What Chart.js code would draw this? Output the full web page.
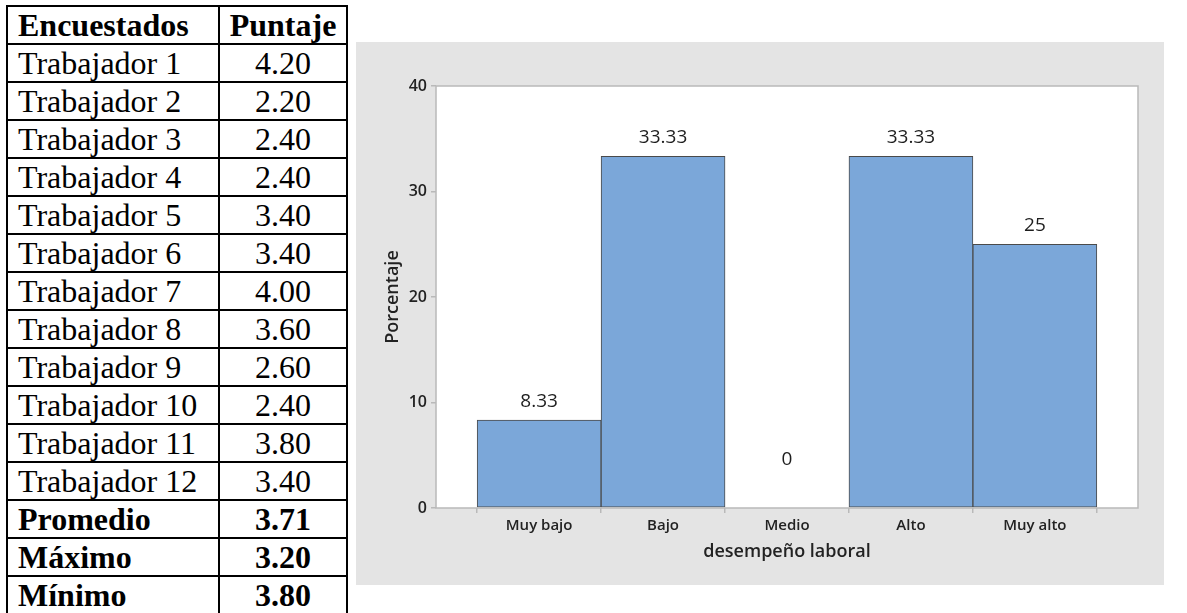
<!DOCTYPE html>
<html lang="es">
<head>
<meta charset="utf-8">
<title>Desempeño laboral</title>
<script src="https://cdn.jsdelivr.net/npm/chart.js@4.4.1/dist/chart.umd.min.js"></script>
<style>
  html, body { margin: 0; padding: 0; background: #fff; overflow: hidden; }
  body { width: 1187px; height: 613px; position: relative; }

  #tabla {
    position: absolute; left: 6px; top: 5px;
    border-collapse: collapse;
    font-family: "Liberation Serif", "Times New Roman", serif;
    font-size: 32px; color: #000;
  }
  #tabla td {
    border: 2px solid #000;
    height: 36px; padding: 0 8px 0 10px; line-height: 36px;
    white-space: nowrap;
  }
  #tabla td:first-child { width: 192px; }
  #tabla td:last-child { width: 114px; text-align: center; padding: 0 6px; }
  #tabla tr.negrita td { font-weight: bold; }

  #panel {
    position: absolute; left: 356px; top: 42px;
    width: 808px; height: 543px;
    background: #e4e4e4;
  }
</style>
</head>
<body>
<table id="tabla"></table>
<div id="panel"><canvas id="grafico"></canvas></div>

<script>
// Tabla de puntajes
const encabezados = ['Encuestados', 'Puntaje'];
const trabajadores = ['Trabajador 1', 'Trabajador 2', 'Trabajador 3', 'Trabajador 4',
  'Trabajador 5', 'Trabajador 6', 'Trabajador 7', 'Trabajador 8', 'Trabajador 9',
  'Trabajador 10', 'Trabajador 11', 'Trabajador 12'];
const puntajes = ['4.20', '2.20', '2.40', '2.40', '3.40', '3.40', '4.00', '3.60',
  '2.60', '2.40', '3.80', '3.40'];
const resumenEtiquetas = ['Promedio', 'Máximo', 'Mínimo'];
const resumenValores = ['3.71', '3.20', '3.80'];

// Histograma de niveles
const categorias = ['Muy bajo', 'Bajo', 'Medio', 'Alto', 'Muy alto'];
const porcentajes = [8.33, 33.33, 0, 33.33, 25];
const ticksY = [0, 10, 20, 30, 40];

function fila(a, b, negrita) {
  const tr = document.createElement('tr');
  if (negrita) tr.className = 'negrita';
  [a, b].forEach(t => {
    const td = document.createElement('td');
    td.textContent = t;
    tr.appendChild(td);
  });
  return tr;
}

const tabla = document.getElementById('tabla');
tabla.appendChild(fila(encabezados[0], encabezados[1], true));
trabajadores.forEach((t, i) => tabla.appendChild(fila(t, puntajes[i], false)));
resumenEtiquetas.forEach((t, i) => tabla.appendChild(fila(t, resumenValores[i], true)));

const GRIS_EJE = '#b9b9b9';
const FUENTE = '"Open Sans", "Noto Sans", sans-serif';

// fondo blanco y marco del area de trazado
const marcoArea = {
  id: 'marcoArea',
  beforeDraw(chart) {
    const { ctx, chartArea: a } = chart;
    ctx.save();
    ctx.fillStyle = '#fff';
    ctx.fillRect(a.left, a.top, a.right - a.left, a.bottom - a.top);
    ctx.restore();
  },
  afterDraw(chart) {
    const { ctx, chartArea: a } = chart;
    ctx.save();
    ctx.strokeStyle = GRIS_EJE;
    ctx.lineWidth = 1.5;
    ctx.strokeRect(a.left, a.top, a.right - a.left, a.bottom - a.top);
    ctx.restore();
  }
};

// etiquetas de valor sobre cada barra
const etiquetasValor = {
  id: 'etiquetasValor',
  afterDatasetsDraw(chart) {
    const { ctx } = chart;
    const meta = chart.getDatasetMeta(0);
    ctx.save();
    ctx.font = '19px ' + FUENTE;
    ctx.fillStyle = '#1e1e1e';
    ctx.textAlign = 'center';
    ctx.textBaseline = 'middle';
    meta.data.forEach((bar, i) => {
      const v = porcentajes[i];
      const dy = v === 0 ? 48 : 19;
      ctx.fillText(String(v), bar.x, bar.y - dy);
    });
    ctx.restore();
  }
};

new Chart(document.getElementById('grafico'), {
  type: 'bar',
  data: {
    datasets: [{
      data: categorias.map((c, i) => ({ x: i, y: porcentajes[i] })),
      backgroundColor: '#7ba7d9',
      borderColor: '#4a4a4a',
      borderWidth: 1,
      borderSkipped: false,
      barPercentage: 1,
      categoryPercentage: 1
    }]
  },
  options: {
    responsive: true,
    maintainAspectRatio: false,
    animation: false,
    layout: { padding: { left: 0, top: 44, right: 26, bottom: 0 } },
    plugins: { legend: { display: false }, tooltip: { enabled: false } },
    scales: {
      x: {
        type: 'linear',
        offset: false,
        min: -0.832,
        max: categorias.length - 1 + 0.832,
        afterBuildTicks: s => { s.ticks = categorias.map((c, i) => ({ value: i })); },
        afterFit: s => { s.height = 77; },
        ticks: {
          callback: v => categorias[v],
          font: { family: FUENTE, size: 15, weight: '600' },
          color: '#222',
          padding: 4,
          maxRotation: 0
        },
        grid: { drawOnChartArea: false, drawTicks: true, tickLength: 5, color: GRIS_EJE, lineWidth: 1.5 },
        border: { display: false },
        title: {
          display: true,
          text: 'desempeño laboral',
          font: { family: FUENTE, size: 18, weight: '600' },
          color: '#222',
          padding: { top: 0, bottom: 22 }
        }
      },
      y: {
        min: ticksY[0],
        max: ticksY[ticksY.length - 1],
        afterBuildTicks: s => { s.ticks = ticksY.map(v => ({ value: v })); },
        afterFit: s => { s.width = 80; },
        ticks: {
          font: { family: FUENTE, size: 16, weight: '600' },
          color: '#222',
          padding: 4
        },
        grid: { drawOnChartArea: false, drawTicks: true, tickLength: 5, color: GRIS_EJE, lineWidth: 1.5 },
        border: { display: false },
        title: {
          display: true,
          text: 'Porcentaje',
          font: { family: FUENTE, size: 18, weight: '600' },
          color: '#222',
          padding: { top: 26, bottom: 0 }
        }
      }
    }
  },
  plugins: [marcoArea, etiquetasValor]
});
</script>
</body>
</html>
